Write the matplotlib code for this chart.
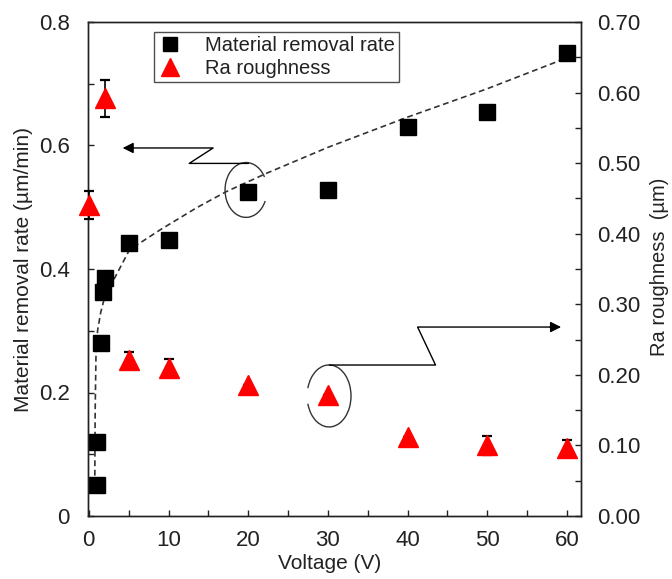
import matplotlib
matplotlib.use("Agg")
import matplotlib.pyplot as plt
from matplotlib.patches import Arc
from matplotlib.ticker import MultipleLocator, FormatStrFormatter, FuncFormatter

plt.rcParams['font.family'] = ['Liberation Sans', 'DejaVu Sans']

# material removal rate (left axis, um/min)
mrr_v = [1.0, 1.0, 1.5, 1.8, 2.0, 5, 10, 20, 30, 40, 50, 60]
mrr = [0.050, 0.120, 0.280, 0.362, 0.385, 0.442, 0.447, 0.524, 0.528, 0.630, 0.654, 0.750]

# fitted trend (dashed)
fit_v = [0.75, 0.8, 0.9, 1.1, 1.5, 2.0, 2.9, 5.1, 8.9, 13.5, 17.2, 22.3, 30, 40, 50, 60]
fit = [0.05, 0.17, 0.26, 0.30, 0.33, 0.355, 0.377, 0.431, 0.463, 0.499, 0.525, 0.555, 0.597, 0.646, 0.692, 0.742]

# Ra roughness (right axis, um)
ra_v = [0, 2, 5, 10, 20, 30, 40, 50, 60]
ra = [0.441, 0.592, 0.221, 0.210, 0.186, 0.171, 0.112, 0.100, 0.096]
ra_err = [0.020, 0.026, 0.011, 0.012, 0.0, 0.0, 0.0, 0.013, 0.012]

txt = '#222222'

fig = plt.figure(figsize=(6.72, 5.79), dpi=100)
ax = fig.add_axes([88 / 672, 63 / 579, 493 / 672, 494 / 579])
ax2 = ax.twinx()

ax.plot(fit_v, fit, linestyle=(0, (3.5, 2.2)), color='#333333', lw=1.2, zorder=2)
l1, = ax.plot(mrr_v, mrr, 's', color='black', ms=11, ls='none', zorder=3,
              label='Material removal rate')

ax2.errorbar(ra_v, ra, yerr=ra_err, fmt='none', ecolor='black', elinewidth=1.2,
             capsize=3.5, capthick=1.6, clip_on=False, zorder=3)
l2, = ax2.plot(ra_v, ra, '^', color='#ff0000', ms=14, ls='none', clip_on=False,
               zorder=4, label='Ra roughness')

ax.set_xlim(-0.1, 61.75)
ax.set_ylim(0, 0.8)
ax2.set_ylim(0, 0.70)

ax.xaxis.set_major_locator(MultipleLocator(10))
ax.xaxis.set_minor_locator(MultipleLocator(5))
ax.yaxis.set_major_locator(MultipleLocator(0.2))
ax.yaxis.set_minor_locator(MultipleLocator(0.1))
ax.yaxis.set_major_formatter(FuncFormatter(lambda v, p: '0' if abs(v) < 1e-9 else f'{v:.1f}'))
ax2.yaxis.set_major_locator(MultipleLocator(0.1))
ax2.yaxis.set_minor_locator(MultipleLocator(0.05))
ax2.yaxis.set_major_formatter(FormatStrFormatter('%.2f'))

for a in (ax, ax2):
    a.tick_params(which='both', direction='in', length=4.5, width=1.0, colors='#222222',
                  labelsize=16, labelcolor=txt)
    for s in a.spines.values():
        s.set_linewidth(1.0)
        s.set_color('#222222')
ax.tick_params(axis='y', which='both', right=False, pad=13)
ax.tick_params(axis='x', which='both', top=False, pad=10)
ax2.tick_params(axis='y', which='both', left=False, right=True, pad=11.5)

ax.set_xlabel('Voltage (V)', fontsize=15, color=txt)
ax.xaxis.set_label_coords(0.491, -0.077)
ax.set_ylabel('Material removal rate (µm/min)', fontsize=15, color=txt)
ax.yaxis.set_label_coords(-0.112, 0.5)
ax2.set_ylabel('Ra roughness  (µm)', fontsize=14.5, color=txt)
ax2.yaxis.set_label_coords(1.14, 0.504)

# annotation: open circle around MRR point, arrow pointing to left axis
ax.add_patch(Arc((0.3205, 0.660), 0.085, 0.111, theta1=35, theta2=330,
                 transform=ax.transAxes, color='#333333', lw=1.0, zorder=2))
ax.plot([20.0, 12.6, 15.6, 4.6], [0.571, 0.571, 0.596, 0.596], color='black', lw=1.0)
ax.annotate('', xy=(3.9, 0.596), xytext=(5.5, 0.596),
            arrowprops=dict(arrowstyle='-|>', color='black', lw=1.0, mutation_scale=16))

# annotation: open circle around Ra point, arrow pointing to right axis
ax.add_patch(Arc((0.489, 0.243), 0.089, 0.1255, theta1=-160, theta2=160,
                 transform=ax.transAxes, color='#333333', lw=1.0, zorder=2))
ax.plot([30.2, 43.5, 41.25, 58.8], [0.2445, 0.2445, 0.306, 0.306], color='black', lw=1.0)
ax.annotate('', xy=(59.6, 0.306), xytext=(57.5, 0.306),
            arrowprops=dict(arrowstyle='-|>', color='black', lw=1.0, mutation_scale=16))

leg = ax2.legend(handles=[l1, l2], loc='upper left', bbox_to_anchor=(0.134, 0.98),
                 fontsize=14.5, frameon=True, fancybox=False, borderaxespad=0,
                 handletextpad=1.15, borderpad=0.2, labelspacing=0.2, markerscale=0.95,
                 handlelength=1.2)
leg.get_frame().set_edgecolor('#222222')
leg.get_frame().set_linewidth(1.0)
for t in leg.get_texts():
    t.set_color(txt)

fig.savefig('out.png', dpi=100)
